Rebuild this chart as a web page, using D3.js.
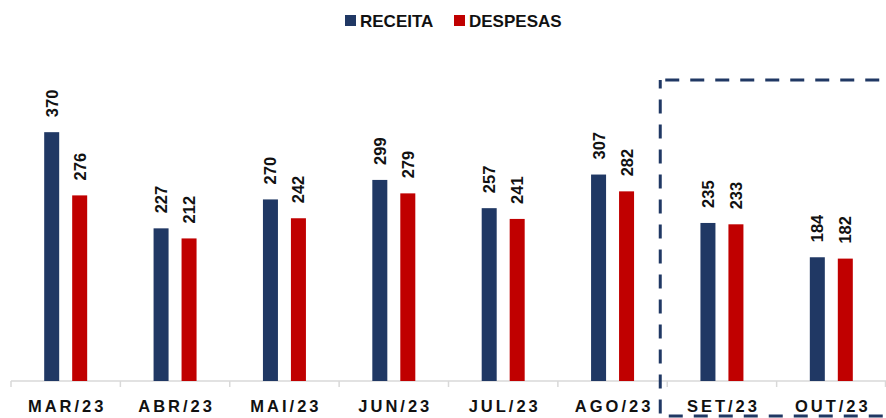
<!DOCTYPE html>
<html>
<head>
<meta charset="utf-8">
<script src="https://cdn.jsdelivr.net/npm/d3@7"></script>
<style>
  body { margin: 0; background: #fff; }
  svg { display: block; font-family: "Liberation Sans", Arial, sans-serif; }
</style>
</head>
<body>
<div id="chart"></div>
<script>
const months = ['MAR/23', 'ABR/23', 'MAI/23', 'JUN/23', 'JUL/23', 'AGO/23', 'SET/23', 'OUT/23'];
const receita = [370, 227, 270, 299, 257, 307, 235, 184];
const despesas = [276, 212, 242, 279, 241, 282, 233, 182];
const seriesNames = ['RECEITA', 'DESPESAS'];
const colors = ['#203864', '#C00000'];
const forecastStart = 'SET/23';

const width = 886;
const height = 418;
const baseY = 381;

const svg = d3.select('#chart')
    .append('svg')
    .attr('width', width)
    .attr('height', height);

const x = d3.scaleBand()
    .domain(months)
    .range([11, 886]);

const xInner = d3.scaleBand()
    .domain(seriesNames)
    .range([0, x.bandwidth()])
    .paddingInner(0.464)
    .paddingOuter(1.186);

const y = d3.scaleLinear()
    .domain([0, 400])
    .range([baseY, 112]);

const data = months.map((m, i) => ({ month: m, values: [receita[i], despesas[i]] }));

// axis baseline + ticks
const axis = svg.append('g');
axis.append('line')
    .attr('x1', 11).attr('x2', 886)
    .attr('y1', baseY).attr('y2', baseY)
    .attr('stroke', '#d9d9d9').attr('stroke-width', 1.5);
axis.selectAll('.tick')
    .data(months.concat(['end']))
    .enter().append('line')
    .attr('x1', d => d === 'end' ? 885.5 : x(d))
    .attr('x2', d => d === 'end' ? 885.5 : x(d))
    .attr('y1', baseY).attr('y2', baseY + 6)
    .attr('stroke', '#d9d9d9').attr('stroke-width', 1.5);

axis.selectAll('.xlabel')
    .data(months)
    .enter().append('text')
    .attr('x', d => x(d) + x.bandwidth() / 2 + 1.5)
    .attr('y', 412)
    .attr('text-anchor', 'middle')
    .attr('font-size', 16.5)
    .attr('font-weight', 'bold')
    .attr('letter-spacing', 3)
    .attr('fill', '#111')
    .text(d => d);

// bars
const groups = svg.selectAll('.grp')
    .data(data)
    .enter().append('g')
    .attr('transform', d => `translate(${x(d.month)},0)`);

groups.selectAll('rect')
    .data(d => d.values.map((v, i) => ({ key: seriesNames[i], value: v, i })))
    .enter().append('rect')
    .attr('x', d => xInner(d.key))
    .attr('width', xInner.bandwidth())
    .attr('y', d => y(d.value))
    .attr('height', d => y(0) - y(d.value))
    .attr('fill', d => colors[d.i]);

groups.selectAll('.val')
    .data(d => d.values.map((v, i) => ({ key: seriesNames[i], value: v, i })))
    .enter().append('text')
    .attr('transform', d => `translate(${xInner(d.key) + xInner.bandwidth() / 2 + 6},${y(d.value) - 15}) rotate(-90)`)
    .attr('font-size', 16.5)
    .attr('font-weight', 'bold')
    .attr('fill', '#111')
    .text(d => d.value);

// dashed forecast box
const bx = x(forecastStart) - 7;
svg.append('rect')
    .attr('x', bx)
    .attr('y', 80)
    .attr('width', width - bx + 20)
    .attr('height', 336)
    .attr('fill', 'none')
    .attr('stroke', '#203864')
    .attr('stroke-width', 3)
    .attr('stroke-dasharray', '14 11')
    .attr('stroke-dashoffset', -5);

// legend
const legend = svg.append('g');
const legendX = [345, 454];
seriesNames.forEach((name, i) => {
    legend.append('rect')
        .attr('x', legendX[i]).attr('y', 15)
        .attr('width', 11).attr('height', 11)
        .attr('fill', colors[i]);
    legend.append('text')
        .attr('x', legendX[i] + 15)
        .attr('y', 27)
        .attr('font-size', 17)
        .attr('font-weight', 'bold')
        .attr('fill', '#111')
        .text(name);
});
</script>
</body>
</html>
